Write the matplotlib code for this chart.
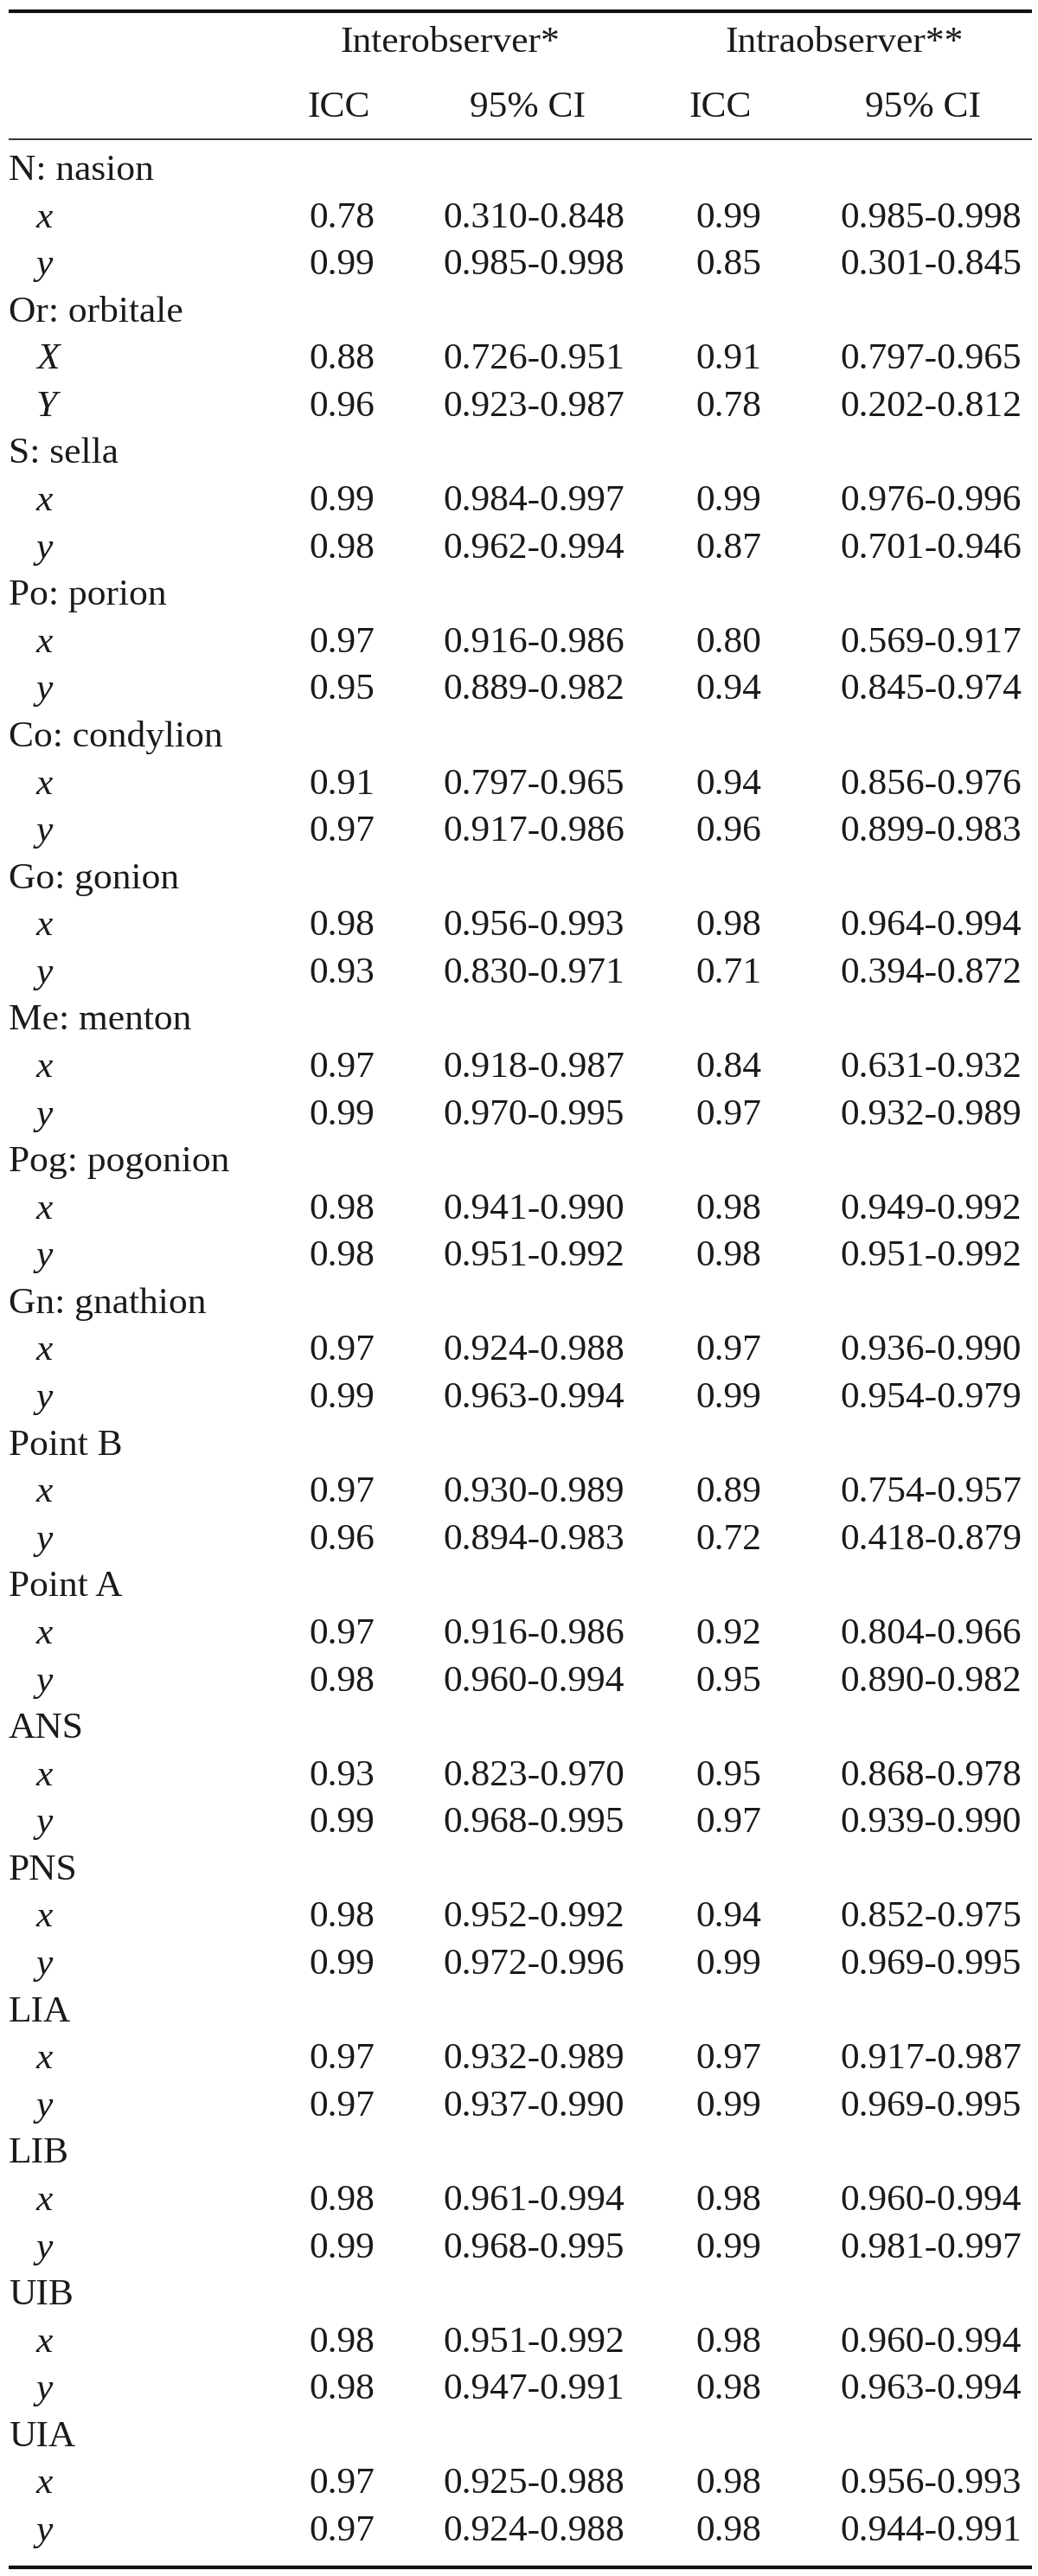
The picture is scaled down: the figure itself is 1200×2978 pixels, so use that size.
import matplotlib
matplotlib.use("Agg")
import matplotlib.pyplot as plt

# ---- data ----
landmarks = ["N: nasion", "Or: orbitale", "S: sella", "Po: porion", "Co: condylion",
             "Go: gonion", "Me: menton", "Pog: pogonion", "Gn: gnathion", "Point B",
             "Point A", "ANS", "PNS", "LIA", "LIB", "UIB", "UIA"]
axis_labels = [["x", "y"], ["X", "Y"]] + [["x", "y"]] * 15

inter_icc = [["0.78", "0.99"], ["0.88", "0.96"], ["0.99", "0.98"], ["0.97", "0.95"],
             ["0.91", "0.97"], ["0.98", "0.93"], ["0.97", "0.99"], ["0.98", "0.98"],
             ["0.97", "0.99"], ["0.97", "0.96"], ["0.97", "0.98"], ["0.93", "0.99"],
             ["0.98", "0.99"], ["0.97", "0.97"], ["0.98", "0.99"], ["0.98", "0.98"],
             ["0.97", "0.97"]]
inter_ci = [["0.310-0.848", "0.985-0.998"], ["0.726-0.951", "0.923-0.987"],
            ["0.984-0.997", "0.962-0.994"], ["0.916-0.986", "0.889-0.982"],
            ["0.797-0.965", "0.917-0.986"], ["0.956-0.993", "0.830-0.971"],
            ["0.918-0.987", "0.970-0.995"], ["0.941-0.990", "0.951-0.992"],
            ["0.924-0.988", "0.963-0.994"], ["0.930-0.989", "0.894-0.983"],
            ["0.916-0.986", "0.960-0.994"], ["0.823-0.970", "0.968-0.995"],
            ["0.952-0.992", "0.972-0.996"], ["0.932-0.989", "0.937-0.990"],
            ["0.961-0.994", "0.968-0.995"], ["0.951-0.992", "0.947-0.991"],
            ["0.925-0.988", "0.924-0.988"]]
intra_icc = [["0.99", "0.85"], ["0.91", "0.78"], ["0.99", "0.87"], ["0.80", "0.94"],
             ["0.94", "0.96"], ["0.98", "0.71"], ["0.84", "0.97"], ["0.98", "0.98"],
             ["0.97", "0.99"], ["0.89", "0.72"], ["0.92", "0.95"], ["0.95", "0.97"],
             ["0.94", "0.99"], ["0.97", "0.99"], ["0.98", "0.99"], ["0.98", "0.98"],
             ["0.98", "0.98"]]
intra_ci = [["0.985-0.998", "0.301-0.845"], ["0.797-0.965", "0.202-0.812"],
            ["0.976-0.996", "0.701-0.946"], ["0.569-0.917", "0.845-0.974"],
            ["0.856-0.976", "0.899-0.983"], ["0.964-0.994", "0.394-0.872"],
            ["0.631-0.932", "0.932-0.989"], ["0.949-0.992", "0.951-0.992"],
            ["0.936-0.990", "0.954-0.979"], ["0.754-0.957", "0.418-0.879"],
            ["0.804-0.966", "0.890-0.982"], ["0.868-0.978", "0.939-0.990"],
            ["0.852-0.975", "0.969-0.995"], ["0.917-0.987", "0.969-0.995"],
            ["0.960-0.994", "0.981-0.997"], ["0.960-0.994", "0.963-0.994"],
            ["0.956-0.993", "0.944-0.991"]]

group_headers = ["Interobserver*", "Intraobserver**"]
col_headers = ["ICC", "95% CI", "ICC", "95% CI"]

# ---- layout (pixel coordinates) ----
W, H = 1200, 2978
FS = 31.3
FONT = ["Liberation Serif", "DejaVu Serif"]
col_x = [395, 617, 842, 1076]
col_head_x = [392, 610, 833, 1067]
group_x = [520, 976]
label_x, sub_x = 10, 42
row0, pitch = 208.0, 54.58

fig = plt.figure(figsize=(W / 100, H / 100), dpi=100)
ax = fig.add_axes([0, 0, 1, 1])
ax.set_xlim(0, W)
ax.set_ylim(H, 0)
ax.axis("off")

def txt(x, y, s, ha="center", style="normal"):
    ax.text(x, y, s, ha=ha, va="baseline", fontsize=FS, family=FONT,
            style=style, color="#1a1a1a")

# rules
ax.plot([10, 1193], [12.5, 12.5], color="#111111", lw=3.0, solid_capstyle="butt")
ax.plot([10, 1193], [161, 161], color="#111111", lw=1.2, solid_capstyle="butt")
ax.plot([10, 1193], [2968, 2968], color="#111111", lw=3.0, solid_capstyle="butt")

# headers
for gx, g in zip(group_x, group_headers):
    txt(gx, 60, g)
for cx, c in zip(col_head_x, col_headers):
    txt(cx, 135, c)

# body
r = 0
for i, name in enumerate(landmarks):
    txt(label_x, row0 + pitch * r, name, ha="left")
    r += 1
    for k in range(2):
        y = row0 + pitch * r
        txt(sub_x, y, axis_labels[i][k], ha="left", style="italic")
        txt(col_x[0], y, inter_icc[i][k])
        txt(col_x[1], y, inter_ci[i][k])
        txt(col_x[2], y, intra_icc[i][k])
        txt(col_x[3], y, intra_ci[i][k])
        r += 1

fig.savefig("out.png", dpi=100, facecolor="white")
